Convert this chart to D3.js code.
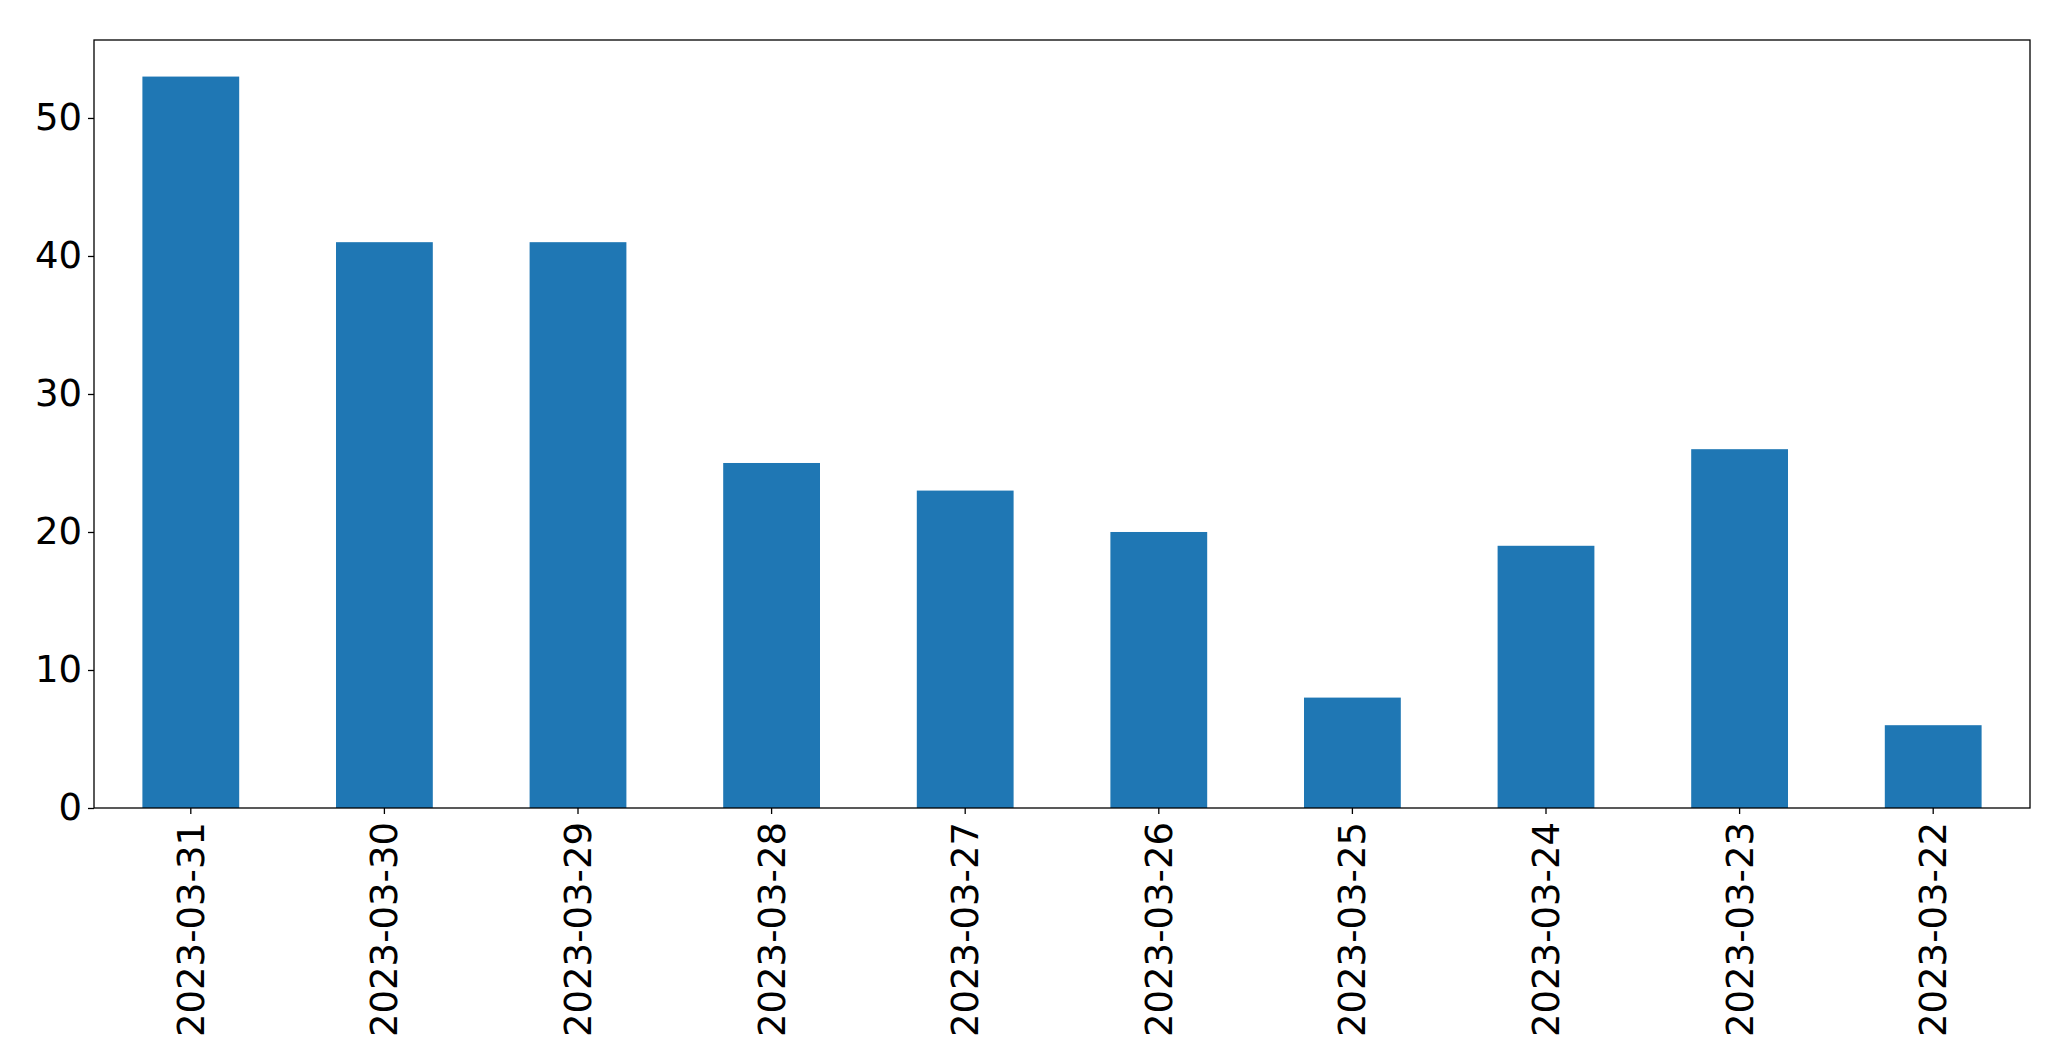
<!DOCTYPE html>
<html>
<head>
<meta charset="utf-8">
<script src="https://cdn.jsdelivr.net/npm/d3@7"></script>
<style>
body { margin:0; background:#fff; }
text { font-family: "DejaVu Sans", sans-serif; }
</style>
</head>
<body>
<div id="chart-area"></div>
<script>
var dates = ["2023-03-31","2023-03-30","2023-03-29","2023-03-28","2023-03-27",
             "2023-03-26","2023-03-25","2023-03-24","2023-03-23","2023-03-22"];
var counts = [53, 41, 41, 25, 23, 20, 8, 19, 26, 6];
var yTicks = [0, 10, 20, 30, 40, 50];

var margin = { left:94, right:41, top:40, bottom:253 };
var width = 2071 - margin.left - margin.right,
    height = 1061 - margin.top - margin.bottom;

var svg = d3.select("#chart-area").append("svg")
    .attr("width", 2071).attr("height", 1061);
var g = svg.append("g")
    .attr("transform", "translate(" + margin.left + "," + margin.top + ")");

var x = d3.scaleBand().domain(dates).range([0, width]).paddingInner(0.5).paddingOuter(0.25);
var y = d3.scaleLinear().domain([0, 55.65]).range([height, 0]);

g.selectAll("rect").data(dates).enter().append("rect")
    .attr("x", function(d){ return x(d); })
    .attr("width", x.bandwidth())
    .attr("y", function(d, i){ return y(counts[i]); })
    .attr("height", function(d, i){ return height - y(counts[i]); })
    .attr("fill", "#1f77b4");

var yAxis = g.append("g").call(d3.axisLeft(y).tickValues(yTicks).tickSize(6).tickPadding(6));
var xAxis = g.append("g").attr("transform", "translate(0," + height + ")")
    .call(d3.axisBottom(x).tickSize(6).tickPadding(8));
xAxis.selectAll("text")
    .attr("transform", "rotate(-90)")
    .attr("text-anchor", "end")
    .attr("dy", "0.35em")
    .attr("x", -14).attr("y", 0);
[yAxis, xAxis].forEach(function(a){
    a.selectAll("text").attr("font-size", "37px").attr("fill", "#000");
    a.selectAll("line").attr("stroke", "#000").attr("stroke-width", 1.3);
    a.select(".domain").remove();
});

g.append("rect").attr("width", width).attr("height", height)
    .attr("fill", "none").attr("stroke", "#000").attr("stroke-width", 1.3);
</script>
</body>
</html>
